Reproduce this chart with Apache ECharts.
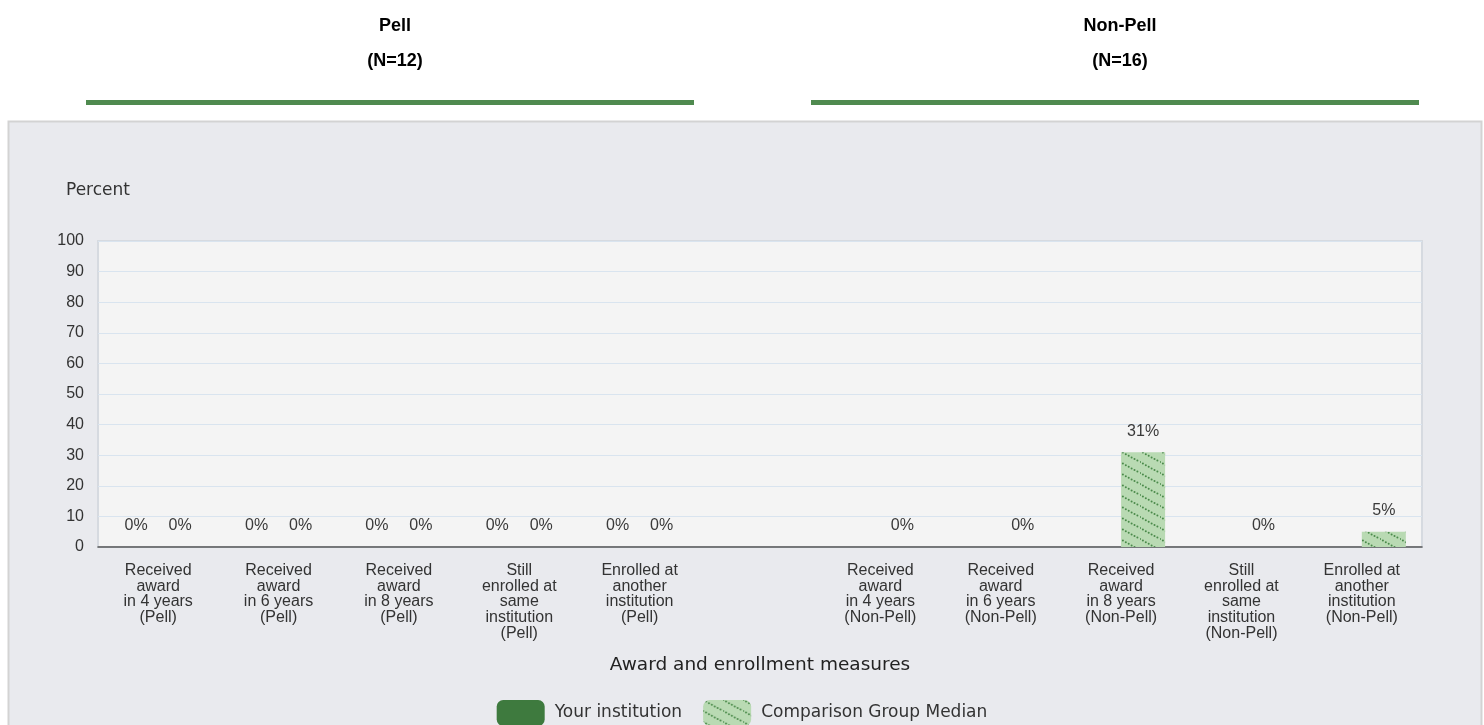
<!DOCTYPE html>
<html>
<head>
<meta charset="utf-8">
<script src="https://cdn.jsdelivr.net/npm/echarts@6/dist/echarts.min.js"></script>
<style>
html,body{margin:0;padding:0;background:#fff;}
#chart{width:1484px;height:725px;}
</style>
</head>
<body>
<div id="chart"></div>
<script>
const categories = [
  "Received\naward\nin 4 years\n(Pell)",
  "Received\naward\nin 6 years\n(Pell)",
  "Received\naward\nin 8 years\n(Pell)",
  "Still\nenrolled at\nsame\ninstitution\n(Pell)",
  "Enrolled at\nanother\ninstitution\n(Pell)",
  "",
  "Received\naward\nin 4 years\n(Non-Pell)",
  "Received\naward\nin 6 years\n(Non-Pell)",
  "Received\naward\nin 8 years\n(Non-Pell)",
  "Still\nenrolled at\nsame\ninstitution\n(Non-Pell)",
  "Enrolled at\nanother\ninstitution\n(Non-Pell)"
];
const yourInstitution = [0, 0, 0, 0, 0, null, null, null, null, null, null];
const comparisonMedian = [0, 0, 0, 0, 0, null, 0, 0, 31, 0, 5];
const yTicks = { min: 0, max: 100, interval: 10 };
const groupTitles = ["Pell\n(N=12)", "Non-Pell\n(N=16)"];
const seriesNames = ["Your institution", "Comparison Group Median"];

// hatched pattern for comparison bars
function makePattern() {
  const c = document.createElement('canvas');
  const w = 20, h = 11;
  c.width = w; c.height = h;
  const ctx = c.getContext('2d');
  ctx.fillStyle = '#b9dab3';
  ctx.fillRect(0, 0, w, h);
  ctx.fillStyle = '#4a8a4a';
  for (let k = -1; k <= 1; k++) {
    for (let x = 0; x < w; x += 2.9) {
      const y = x * h / w + k * h;
      ctx.beginPath();
      ctx.arc(x, y, 1.0, 0, Math.PI * 2);
      ctx.fill();
    }
  }
  return c;
}
const pattern = { image: makePattern(), repeat: 'repeat' };

const chart = echarts.init(document.getElementById('chart'));
const titleStyle = { fontSize: 18, fontWeight: 'bold', color: '#000', fontFamily: 'Liberation Sans, Arial', lineHeight: 35 };
const labelStyle = { show: true, position: 'top', distance: 13, formatter: '{c}%', fontSize: 16, color: '#3a3a3a', fontFamily: 'Liberation Sans, Arial' };
chart.setOption({
  animation: false,
  backgroundColor: '#ffffff',
  title: [
    { text: groupTitles[0], left: 390, top: 4, textAlign: 'center', textStyle: titleStyle },
    { text: groupTitles[1], left: 1115, top: 4, textAlign: 'center', textStyle: titleStyle }
  ],
  graphic: [
    { type: 'rect', z: -10, silent: true, shape: { x: 8.5, y: 121.5, width: 1473, height: 620 }, style: { fill: '#e9eaee', stroke: '#d3d3d3', lineWidth: 2 } },
    { type: 'rect', silent: true, shape: { x: 86, y: 100, width: 608, height: 5 }, style: { fill: '#4f8a4f' } },
    { type: 'rect', silent: true, shape: { x: 811, y: 100, width: 608, height: 5 }, style: { fill: '#4f8a4f' } }
  ],
  grid: {
    left: 98, right: 62, top: 241, bottom: 178,
    show: true, backgroundColor: '#f4f4f4', borderColor: '#d6dae0', borderWidth: 2
  },
  legend: {
    data: seriesNames,
    left: 'center', top: 695,
    itemWidth: 48, itemHeight: 26, itemGap: 21,
    icon: 'roundRect',
    textStyle: { fontSize: 17, color: '#333', fontFamily: 'DejaVu Sans', padding: [0, 0, 0, 5] }
  },
  xAxis: {
    type: 'category',
    data: categories,
    name: 'Award and enrollment measures',
    nameLocation: 'middle',
    nameGap: 109,
    nameTextStyle: { fontSize: 18.5, color: '#222', fontFamily: 'DejaVu Sans' },
    axisLine: { lineStyle: { color: '#555', width: 1.5 } },
    axisTick: { length: 10, lineStyle: { color: '#555', width: 1.5 } },
    axisLabel: { interval: 0, fontSize: 16, lineHeight: 15.6, color: '#333', margin: 16, fontFamily: 'Liberation Sans, Arial' }
  },
  yAxis: {
    type: 'value',
    min: yTicks.min, max: yTicks.max, interval: yTicks.interval,
    name: 'Percent',
    nameLocation: 'end',
    nameGap: 42,
    nameTextStyle: { fontSize: 17, color: '#333', fontFamily: 'DejaVu Sans' },
    axisLine: { show: false },
    axisTick: { show: false },
    axisLabel: { fontSize: 16, color: '#333', margin: 14, fontFamily: 'Liberation Sans, Arial' },
    splitLine: { lineStyle: { color: '#d9e4ef', width: 1 } }
  },
  series: [
    {
      name: seriesNames[0], type: 'bar', data: yourInstitution,
      barWidth: 44, barGap: '0%',
      itemStyle: { color: '#3e7a3e' },
      label: labelStyle
    },
    {
      name: seriesNames[1], type: 'bar', data: comparisonMedian,
      barWidth: 44, barGap: '0%',
      itemStyle: { color: pattern },
      label: labelStyle
    }
  ]
});
</script>
</body>
</html>
